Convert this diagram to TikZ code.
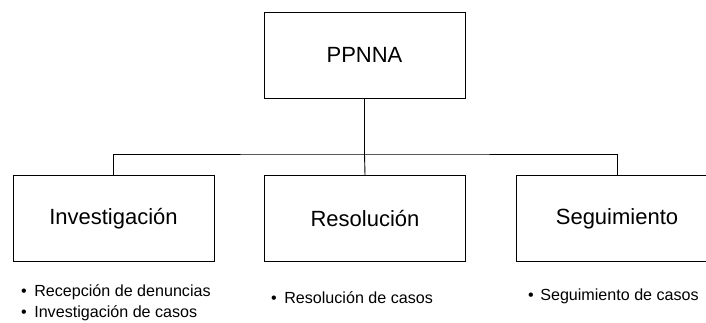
\documentclass[tikz,border=0pt]{standalone}
\usepackage{fontspec}
\setmainfont{Liberation Sans}
\begin{document}
\begin{tikzpicture}[x=1pt,y=1pt,
  box/.style={draw, line width=0.9pt, minimum width=201pt, minimum height=86pt, inner sep=0pt,
    font=\fontsize{22}{26}\selectfont},
  conn/.style={line width=0.9pt},
  blist/.style={anchor=west, inner sep=0pt, align=left, font=\fontsize{16.1}{21}\selectfont}]
\useasboundingbox (0,0) rectangle (706,322);
\clip (0,0) rectangle (706,322);
\node[box] (top) at (364.5,267) {PPNNA};
\node[box] (inv) at (113.5,103.5) {Investigación};
\node[box] (res) at (365,103.5) {Resolución};
\node[box] (seg) at (617,103.5) {Seguimiento};
\coordinate (j) at (top.south |- 0,168);
\draw[conn, line width=1.3pt] (top.south) -- (j);
\draw[conn] (j) -- (res.north);
\draw[conn] (inv.north) |- (j) -| (seg.north);
\node[blist] (l1) at (21,19.5) {\textbullet\hspace{7.5pt}Recepción de denuncias\\\textbullet\hspace{7.5pt}Investigación de casos};
\node[blist] (l2) at (271,24) {\textbullet\hspace{7.5pt}Resolución de casos};
\node[blist] (l3) at (528,26) {\textbullet\hspace{6.5pt}Seguimiento de casos};
\end{tikzpicture}
\end{document}
